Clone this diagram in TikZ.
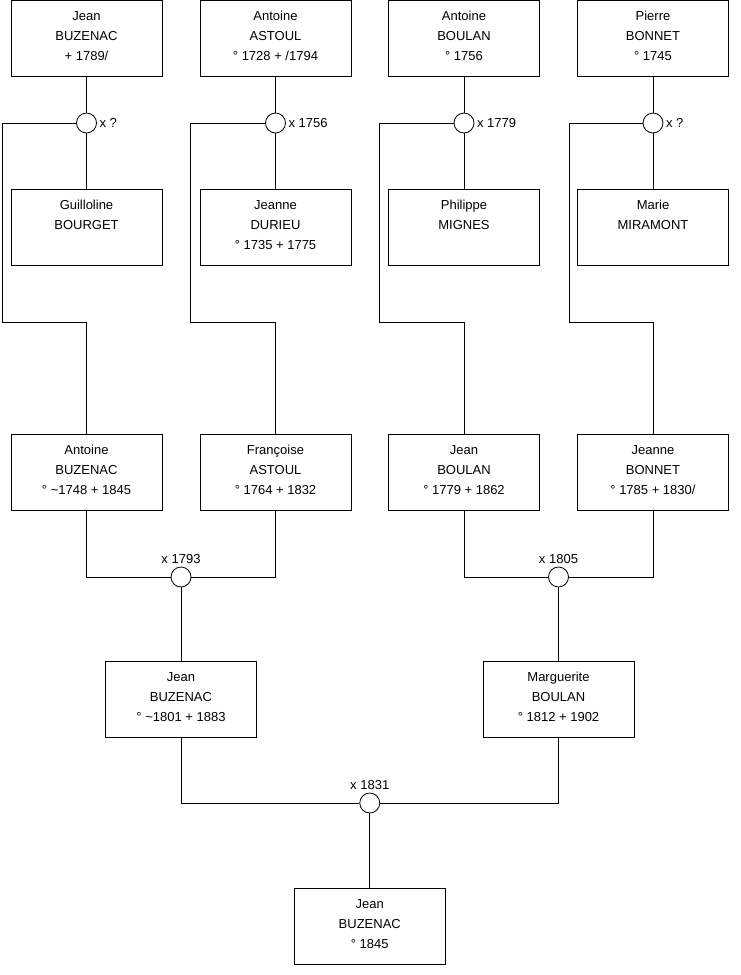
\documentclass[tikz,border=0pt]{standalone}
\usepackage{fontspec}
\setmainfont{Liberation Sans}
\newcommand{\pcontent}[1]{\parbox[c][76pt][t]{151pt}{\centering\fontsize{13}{20}\selectfont\rule{0pt}{20pt}#1}}
\tikzset{
  person/.style={draw, line width=0.8pt, inner sep=0pt, fill=white},
  union/.style={draw, circle, minimum size=20pt, inner sep=0pt, fill=white, line width=0.8pt},
  link/.style={line width=0.8pt},
  every label/.style={font=\fontsize{13}{16}\selectfont, inner sep=2.5pt},
}
\begin{document}
\begin{tikzpicture}[x=1pt, y=-1pt, label distance=0pt]
\useasboundingbox (0,0) rectangle (740,975);
% top row
\node[person] (t1) at (86.5,38.5) {\pcontent{Jean\\BUZENAC\\+ 1789/}};
\node[person] (t2) at (275.5,38.5) {\pcontent{Antoine\\ASTOUL\\° 1728 + /1794}};
\node[person] (t3) at (464,38.5) {\pcontent{Antoine\\BOULAN\\° 1756}};
\node[person] (t4) at (653,38.5) {\pcontent{Pierre\\BONNET\\° 1745}};
% unions
\node[union, label=right:{x ?}] (u1) at (86.5,123) {};
\node[union, label=right:{x 1756}] (u2) at (275.5,123) {};
\node[union, label=right:{x 1779}] (u3) at (464,123) {};
\node[union, label=right:{x ?}] (u4) at (653,123) {};
% second row
\node[person] (s1) at (86.5,227.5) {\pcontent{Guilloline\\BOURGET}};
\node[person] (s2) at (275.5,227.5) {\pcontent{Jeanne\\DURIEU\\° 1735 + 1775}};
\node[person] (s3) at (464,227.5) {\pcontent{Philippe\\MIGNES}};
\node[person] (s4) at (653,227.5) {\pcontent{Marie\\MIRAMONT}};
% third row
\node[person] (a1) at (86.5,472.5) {\pcontent{Antoine\\BUZENAC\\° \textasciitilde1748 + 1845}};
\node[person] (a2) at (275.5,472.5) {\pcontent{Françoise\\ASTOUL\\° 1764 + 1832}};
\node[person] (a3) at (464,472.5) {\pcontent{Jean\\BOULAN\\° 1779 + 1862}};
\node[person] (a4) at (653,472.5) {\pcontent{Jeanne\\BONNET\\° 1785 + 1830/}};
% unions row 3
\node[union, label=above:{x 1793}] (m1) at (181,577) {};
\node[union, label=above:{x 1805}] (m2) at (558.5,577) {};
% fourth row
\node[person] (b1) at (181,699) {\pcontent{Jean\\BUZENAC\\° \textasciitilde1801 + 1883}};
\node[person] (b2) at (558.5,699) {\pcontent{Marguerite\\BOULAN\\° 1812 + 1902}};
% final union
\node[union, label=above:{x 1831}] (f) at (369.75,803) {};
\node[person] (z) at (369.75,926) {\pcontent{Jean\\BUZENAC\\° 1845}};
% corner coordinates
\coordinate (k1) at (2,322);
\coordinate (k2) at (190,322);
\coordinate (k3) at (379,322);
\coordinate (k4) at (569,322);
% connectors
\foreach \i in {1,2,3,4}{
  \draw[link] (t\i) -- (u\i);
  \draw[link] (u\i) -- (s\i);
  \draw[link] (u\i.west) -| (k\i) -| (a\i.north);
}
\draw[link] (a1.south) |- (m1.west);
\draw[link] (a2.south) |- (m1.east);
\draw[link] (a3.south) |- (m2.west);
\draw[link] (a4.south) |- (m2.east);
\draw[link] (m1) -- (b1);
\draw[link] (m2) -- (b2);
\draw[link] (b1.south) |- (f.west);
\draw[link] (b2.south) |- (f.east);
\draw[link] (f) -- (z);
\end{tikzpicture}
\end{document}
